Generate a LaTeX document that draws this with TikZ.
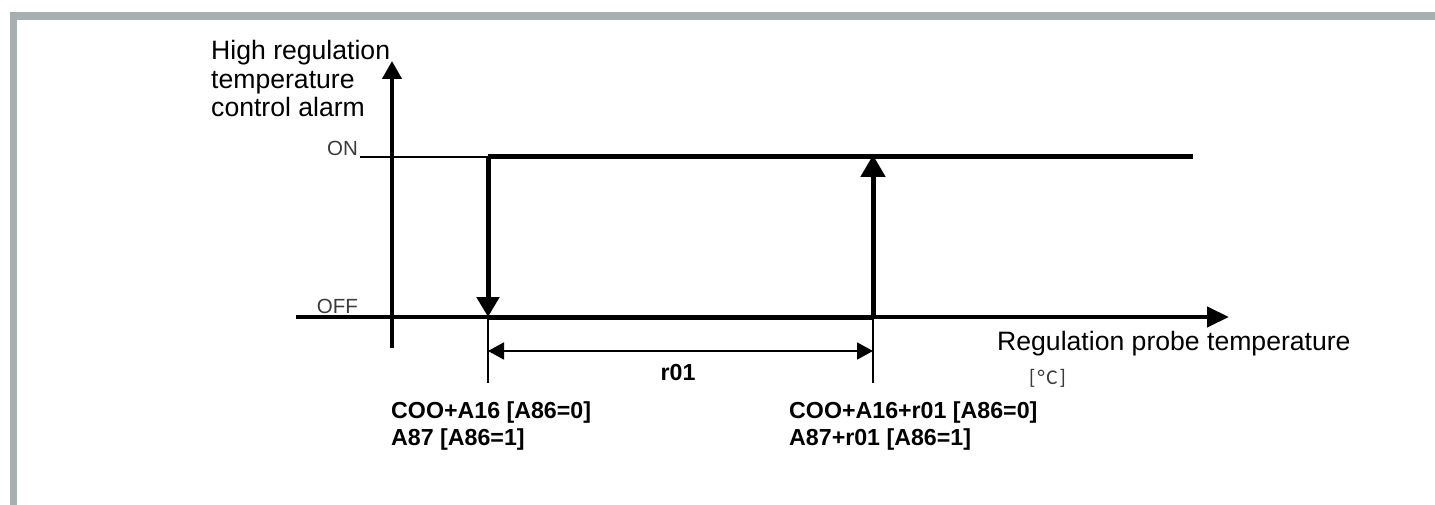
\documentclass[tikz,border=0pt]{standalone}
\usepackage{fontspec}
\setmainfont{Liberation Sans}
\newfontfamily\calfont{Carlito}
\usetikzlibrary{arrows.meta}
\definecolor{framegray}{HTML}{A7AFB1}
\definecolor{labgray}{HTML}{3A3A3A}
\tikzset{
  axis/.style={line width=4.2pt},
  stepline/.style={line width=5pt},
  thin/.style={line width=1.8pt},
  ext/.style={line width=1.4pt},
  biglab/.style={inner sep=0pt, anchor=base west, font=\fontsize{26.6}{28}\selectfont},
  boldlab/.style={inner sep=0pt, anchor=base west, font=\fontsize{23.2}{27}\selectfont\bfseries},
  statelab/.style={inner sep=0pt, anchor=base east, text=labgray, font=\fontsize{20.5}{22}\selectfont},
}
\begin{document}
\begin{tikzpicture}[x=1pt,y=-1pt]
\useasboundingbox (0,0) rectangle (1435,505);
% frame
\fill[framegray] (10,12) rectangle (1435,20);
\fill[framegray] (10,12) rectangle (17,505);

% coordinates
\coordinate (yb) at (392,348);
\coordinate (yt) at (392,61);
\coordinate (xl) at (296,317);
\coordinate (xr) at (1229,317);
\coordinate (onl) at (360,157);
\coordinate (a) at (488,157);
\coordinate (b) at (488,317);
\coordinate (c) at (873,155);
\coordinate (d) at (873,317);
\coordinate (e) at (1193,157);
\coordinate (bx) at (488,383);
\coordinate (dx) at (873,383);
\coordinate (dl) at (488,351);
\coordinate (dr) at (873,351);

% axes
\draw[axis,-{Triangle[length=18pt,width=19pt]}] (yb) -- (yt);
\draw[axis,-{Triangle[length=22pt,width=20pt]}] (xl) -- (xr);

% ON reference line
\draw[thin] (onl) -- (a);

% hysteresis
\draw[stepline] (a) -- (e);
\draw[stepline] (b) -- (d);
\draw[stepline,-{Triangle[length=20pt,width=22pt]}] (a) -- (b);
\draw[stepline,-{Triangle[length=22pt,width=24pt]}] (d) -- (c);

% extension lines
\draw[ext] (b) -- (bx);
\draw[ext] (d) -- (dx);
% dimension
\draw[thin,{Triangle[length=16pt,width=17pt]}-{Triangle[length=16pt,width=17pt]}] (dl) -- (dr);

% labels
\node[boldlab, anchor=base] (r01) at (678,380) {r01};
\node[statelab] (on) at (358,156) {ON};
\node[statelab] (off) at (358,313) {OFF};

\node[biglab] (y1) at (211,60) {High regulation};
\node[biglab] (y2) at (211,88.5) {temperature};
\node[biglab] (y3) at (211,117) {control alarm};

\node[biglab] (xlab) at (997,350) {Regulation probe temperature};
\node[inner sep=0pt, anchor=base west, text=labgray, font=\calfont\fontsize{21}{22}\selectfont] (unit) at (1029,384) {[\kern2pt°\kern1.5pt C\kern2pt]};

\node[boldlab] (l1) at (391,418) {COO+A16 [A86=0]};
\node[boldlab] (l2) at (391,445) {A87 [A86=1]};
\node[boldlab] (r1) at (789,418) {COO+A16+r01 [A86=0]};
\node[boldlab] (r2) at (789,445) {A87+r01 [A86=1]};
\end{tikzpicture}
\end{document}
